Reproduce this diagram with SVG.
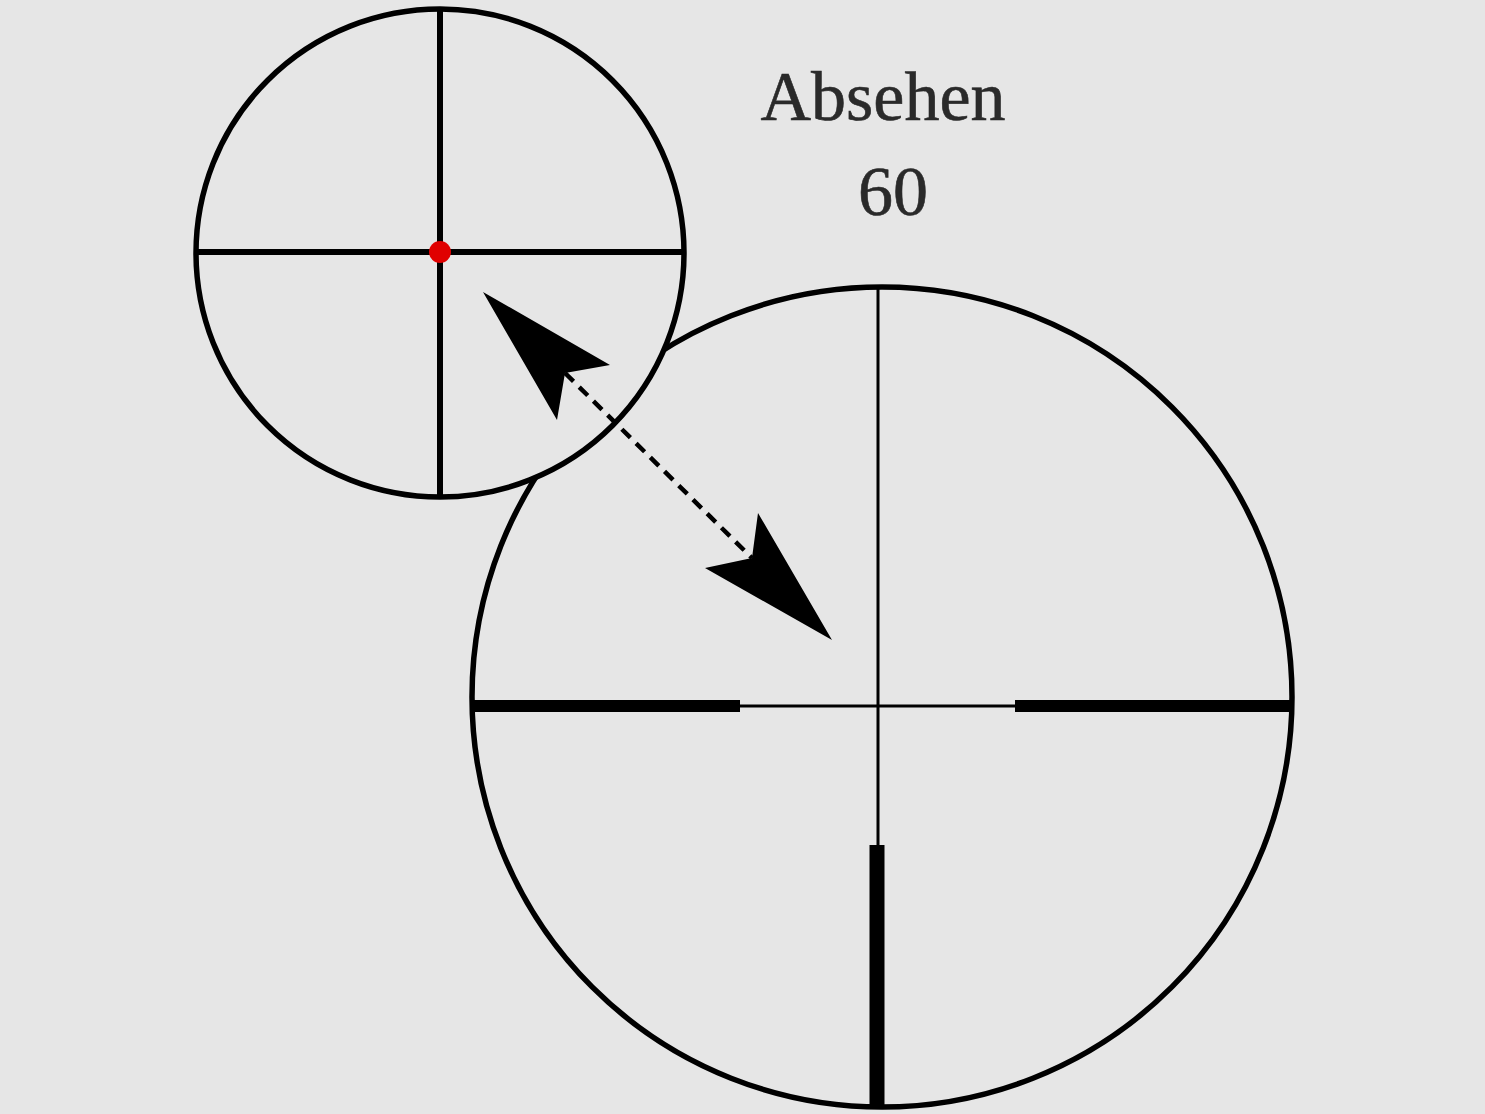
<svg xmlns="http://www.w3.org/2000/svg" width="1485" height="1114" viewBox="0 0 1485 1114">
<style>
.ring{fill:#e6e6e6;stroke:#000;stroke-width:5.5}
.thin{stroke:#000;stroke-width:3}
.thick{stroke:#000;stroke-width:12}
.label{font-family:"Liberation Serif",serif;fill:#2a2a2a;text-anchor:middle;stroke:#2a2a2a;stroke-width:0.6}
</style>
<rect width="1485" height="1114" fill="#e6e6e6"/>
<g id="big-reticle">
<circle class="ring" cx="882" cy="697" r="410"/>
<line class="thin" x1="878" y1="287" x2="878" y2="848"/>
<line class="thin" x1="740" y1="706" x2="1015" y2="706"/>
<line class="thick" x1="471" y1="706" x2="740" y2="706"/>
<line class="thick" x1="1015" y1="706" x2="1293" y2="706"/>
<line stroke="#000" stroke-width="15" x1="877" y1="845" x2="877" y2="1108"/>
</g>
<g id="small-reticle">
<circle class="ring" cx="440" cy="253" r="244"/>
<line stroke="#000" stroke-width="6" x1="440" y1="9" x2="440" y2="497"/>
<line stroke="#000" stroke-width="6" x1="196" y1="252" x2="684" y2="252"/>
<circle cx="440" cy="252" r="11" fill="#e00000"/>
</g>
<g id="connectors">
<line x1="565" y1="373" x2="752" y2="558" stroke="#000" stroke-width="4.5" stroke-dasharray="12 8"/>
<polygon points="483,292 610,365 565,373 557,420" fill="#000"/>
<polygon points="832,640 758,513 752,558 705,568" fill="#000"/>
</g>
<g id="title">
<text class="label" x="883" y="120" font-size="70">Absehen</text>
<text class="label" x="893" y="215" font-size="70">60</text>
</g>
</svg>
